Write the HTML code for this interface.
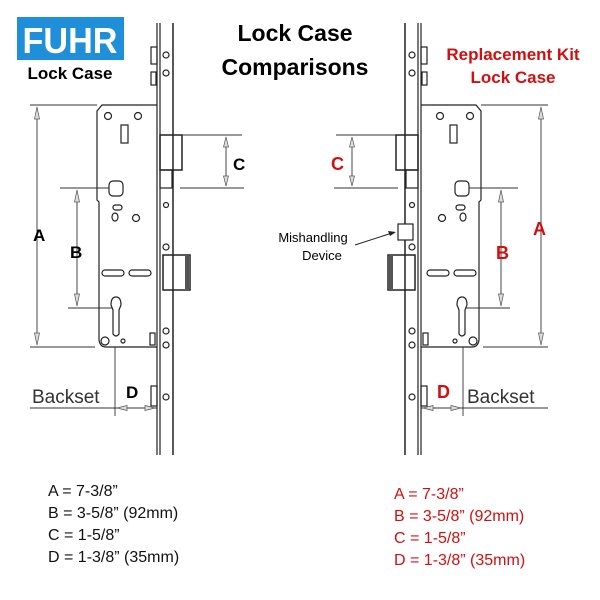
<!DOCTYPE html>
<html><head><meta charset="utf-8"><style>
html,body{margin:0;padding:0;background:#fff;width:600px;height:600px;overflow:hidden}
svg{display:block}
text{font-family:"Liberation Sans",sans-serif}
</style></head><body>
<svg width="600" height="600" viewBox="0 0 600 600" xmlns="http://www.w3.org/2000/svg">
<defs>
<g id="lock" fill="none" stroke="#222" stroke-width="1.2">
  <!-- strip -->
  <line x1="157" y1="23" x2="157" y2="455"/>
  <line x1="160" y1="23" x2="160" y2="455"/>
  <line x1="173" y1="23" x2="173" y2="455" stroke-width="1.5"/>
  <!-- top small parts -->
  <rect x="151" y="47" width="6" height="17"/>
  <rect x="151" y="72" width="5" height="13"/>
  <circle cx="166" cy="55" r="3"/><circle cx="166" cy="73" r="3"/>
  <!-- plate -->
  <path d="M157 105 L102 105 L97 111 L97 200 L99 202 L99 340 Q100 347 106 347 L157 347"/>
  <circle cx="108" cy="116" r="3.5"/><circle cx="138" cy="116" r="3.5"/>
  <rect x="121" y="125" width="7" height="18"/>
  <!-- spindle -->
  <rect x="109" y="181" width="14" height="15" rx="4"/>
  <rect x="113" y="205" width="9" height="5" rx="2.5"/>
  <ellipse cx="115" cy="217" rx="3" ry="4"/>
  <circle cx="136" cy="218" r="3.5"/>
  <rect x="102" y="270" width="22" height="6" rx="3"/>
  <rect x="129" y="270" width="22" height="6" rx="3"/>
  <!-- cylinder -->
  <path d="M111 305 Q111 297 116 297 Q121 297 121 305 L119 310 L119 334 Q116 338 113 334 L113 310 Z"/>
  <circle cx="123" cy="341" r="2"/>
  <circle cx="105" cy="341" r="4"/>
  <rect x="150" y="333" width="5" height="12"/>
  <circle cx="166" cy="331" r="3"/><circle cx="166" cy="345" r="3"/>
  <!-- latch -->
  <rect x="160" y="135" width="22" height="35" stroke-width="1.5"/>
  <rect x="160" y="170" width="12" height="18"/>
  <circle cx="166" cy="205" r="2.5"/><circle cx="166" cy="247" r="3"/>
  <!-- hook -->
  <rect x="163" y="255" width="27" height="35" stroke-width="1.5"/>
  <rect x="185" y="256" width="4" height="33" fill="#555" stroke="none"/>
  <!-- bottom parts -->
  <rect x="151" y="386" width="6" height="20"/>
  <circle cx="166" cy="397" r="3"/>
  <!-- dims -->
  <g stroke="#333" stroke-width="0.9">
    <line x1="182" y1="135" x2="242" y2="135"/>
    <line x1="180" y1="188" x2="244" y2="188"/>
    <line x1="226" y1="137" x2="226" y2="186"/>
    <line x1="30" y1="105" x2="97" y2="105"/>
    <line x1="37" y1="107" x2="37" y2="345"/>
    <line x1="30" y1="347" x2="95" y2="347"/>
    <line x1="60" y1="188" x2="109" y2="188"/>
    <line x1="77" y1="190" x2="77" y2="306"/>
    <line x1="68" y1="308" x2="112" y2="308"/>
    <line x1="115" y1="347" x2="115" y2="416"/>
    <line x1="30" y1="408" x2="157" y2="408"/>
  </g>
  <g fill="#ddd" stroke="#555" stroke-width="0.7">
    <path d="M226 137 l-2.5 10 h5 z"/><path d="M226 186 l-2.5 -10 h5 z"/>
    <path d="M37 107 l-2.5 12 h5 z"/><path d="M37 345 l-2.5 -12 h5 z"/>
    <path d="M77 190 l-2.5 12 h5 z"/><path d="M77 306 l-2.5 -12 h5 z"/>
    <path d="M117 408 l10 -2.5 v5 z"/><path d="M155 408 l-10 -2.5 v5 z"/>
  </g>
</g>
</defs>
<use href="#lock"/>
<use href="#lock" transform="translate(578,0) scale(-1,1)"/>
<!-- mishandling device on right -->
<rect x="398" y="224" width="15" height="16" fill="#fff" stroke="#222" stroke-width="1.2"/>
<line x1="355" y1="245" x2="392" y2="233" stroke="#222" stroke-width="1"/>
<path d="M396 232 l-8 -1 l2 5 z" fill="#222"/>
<text x="313" y="242" font-size="13" text-anchor="middle">Mishandling</text>
<text x="322" y="260" font-size="13" text-anchor="middle">Device</text>
<!-- logo -->
<rect x="17" y="17" width="107" height="43" fill="#1e8fd8"/>
<text x="70" y="53" font-size="36" font-weight="bold" fill="#fff" text-anchor="middle" textLength="95" lengthAdjust="spacingAndGlyphs">FUHR</text>
<text x="70" y="79" font-size="17" font-weight="bold" text-anchor="middle">Lock Case</text>
<text x="295" y="41" font-size="23" font-weight="bold" text-anchor="middle">Lock Case</text>
<text x="295" y="75" font-size="23" font-weight="bold" text-anchor="middle">Comparisons</text>
<text x="513" y="60" font-size="17" font-weight="bold" fill="#d01010" text-anchor="middle">Replacement Kit</text>
<text x="513" y="83" font-size="17" font-weight="bold" fill="#d01010" text-anchor="middle">Lock Case</text>
<!-- left labels -->
<g font-weight="bold" font-size="17">
<text x="33" y="241">A</text><text x="70" y="258">B</text>
<text x="233" y="170">C</text><text x="126" y="398">D</text>
</g>
<text x="32" y="403" font-size="19" fill="#333">Backset</text>
<!-- right labels -->
<g font-weight="bold" font-size="18" fill="#d01010">
<text x="533" y="235">A</text><text x="496" y="259">B</text>
<text x="331" y="170">C</text><text x="437" y="398">D</text>
</g>
<text x="467" y="403" font-size="19" fill="#333">Backset</text>
<!-- lists -->
<g font-size="16" fill="#111">
<text x="48" y="496">A = 7-3/8”</text>
<text x="48" y="518">B = 3-5/8” (92mm)</text>
<text x="48" y="540">C = 1-5/8”</text>
<text x="48" y="562">D = 1-3/8” (35mm)</text>
</g>
<g font-size="16" fill="#d01010">
<text x="394" y="499">A = 7-3/8”</text>
<text x="394" y="521">B = 3-5/8” (92mm)</text>
<text x="394" y="543">C = 1-5/8”</text>
<text x="394" y="565">D = 1-3/8” (35mm)</text>
</g>
</svg>
</body></html>
